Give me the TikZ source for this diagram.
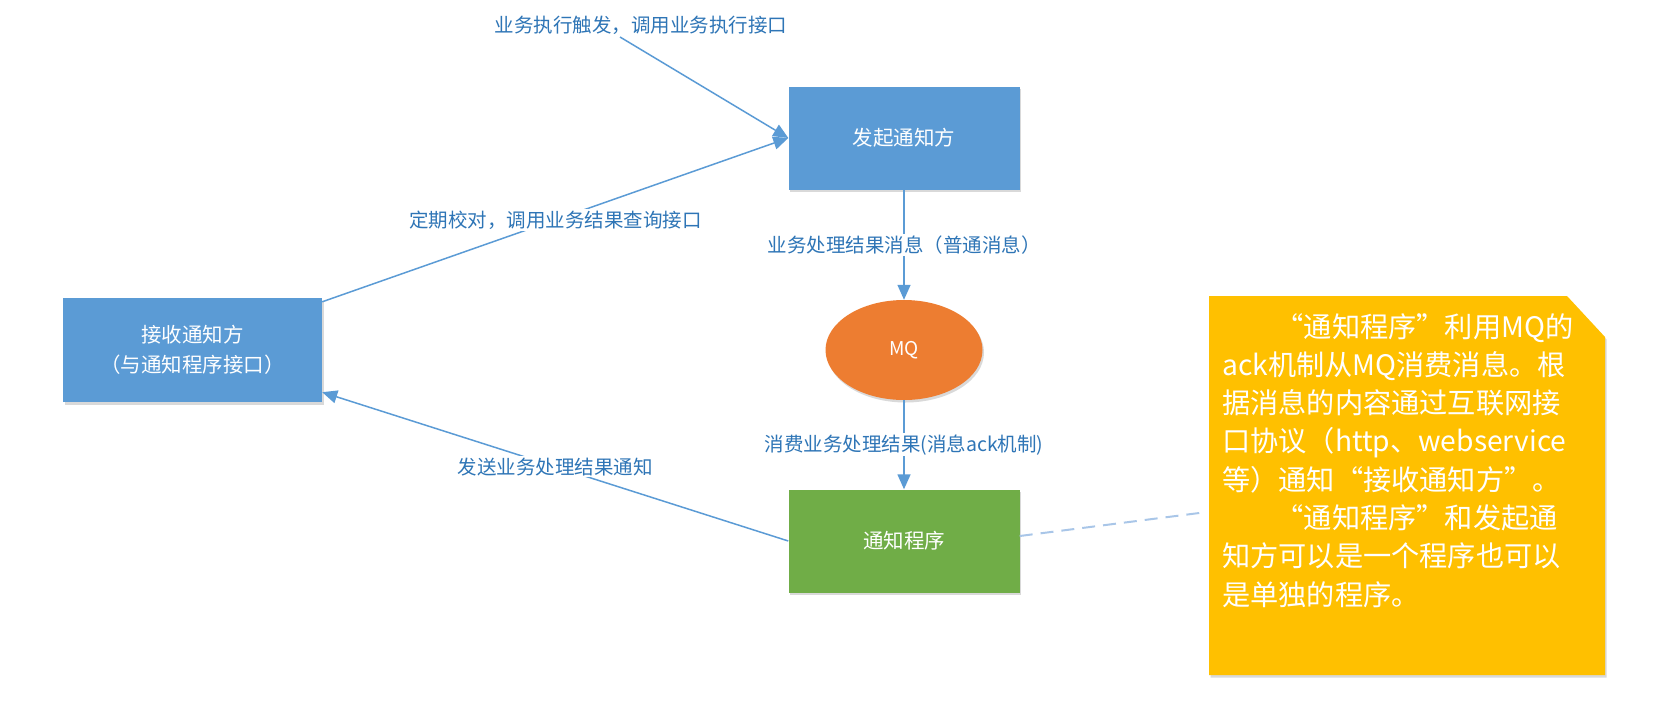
\documentclass[tikz,border=0pt]{standalone}
\usepackage{fontspec}
\setmainfont{Noto Sans CJK SC}
\usepackage{xcolor}
\usetikzlibrary{arrows.meta,shapes.geometric,shadows}
\definecolor{lineblue}{HTML}{5B9BD5}
\definecolor{textblue}{HTML}{2E75B6}
\definecolor{boxblue}{HTML}{5B9BD5}
\definecolor{boxgreen}{HTML}{70AD47}
\definecolor{mqorange}{HTML}{ED7D31}
\definecolor{noteyellow}{HTML}{FFC000}
\definecolor{dashblue}{HTML}{A9C6E8}

\begin{document}
\begin{tikzpicture}[x=1pt,y=-1pt,
        softshadow/.style={drop shadow={shadow xshift=1.5pt,shadow yshift=-2.5pt,opacity=0.25,fill=black!60}},
        box/.style={draw=none,minimum width=231pt,minimum height=103pt,text=white,align=center,
            font=\fontsize{20.5}{30}\selectfont,softshadow},
        lbl/.style={text=textblue,fill=white,inner sep=1.5pt,font=\fontsize{19.5}{23}\selectfont},
        link/.style={draw=lineblue,line width=1.5pt},
        tip/.style={-{Triangle[length=15pt,width=13pt]}}]
                \useasboundingbox (0,0) rectangle (1678,718);
                \node[box,fill=boxblue] (sender) at (904,138) {发起通知方};
                \node[box,fill=boxblue,minimum width=259pt,minimum height=104pt] (receiver) at (192.5,350) {接收通知方\\（与通知程序接口）};
                \node[ellipse,fill=mqorange,minimum width=157pt,minimum height=100pt,text=white,
                    font=\fontsize{19}{22}\selectfont,softshadow] (mq) at (904,350) {MQ};
                \node[box,fill=boxgreen] (notifier) at (904,541) {通知程序};
                \fill[noteyellow,softshadow] (1209,296) -- (1567,296) -- (1605,337) -- (1605,675) -- (1209,675) -- cycle;
                \node[anchor=north west,text=white,align=left,inner sep=0pt,
                    font=\fontsize{28.2}{38.3}\selectfont] (notetext) at (1222,313) {\hspace*{1.9em}“通知程序”利用MQ的\\ack机制从MQ消费消息。根\\据消息的内容通过互联网接\\口协议（http、webservice\\等）通知“接收通知方”。\\\hspace*{1.9em}“通知程序”和发起通\\知方可以是一个程序也可以\\是单独的程序。};
                \coordinate (trig) at (620,37);
                \coordinate (notepin) at (1207,512);
                \node[lbl] (lbltrig) at (641,25) {业务执行触发，调用业务执行接口};
                \draw[link,tip] (trig) -- (sender.west);
                \draw[link,tip] ([yshift=-4pt]receiver.north east) -- node[lbl]{定期校对，调用业务结果查询接口} (sender.west);
                \draw[link,tip] (sender) -- node[lbl]{业务处理结果消息（普通消息）} (mq);
                \draw[link,tip] (mq) -- node[lbl]{消费业务处理结果(消息ack机制)} (notifier);
                \draw[link,tip] (notifier.west) -- node[lbl]{发送业务处理结果通知} ([yshift=10pt]receiver.south east);
                \draw[dashblue,line width=2pt,dash pattern=on 13pt off 8pt] ([yshift=5pt]notifier.east) -- (notepin);
            \end{tikzpicture}
\end{document}
